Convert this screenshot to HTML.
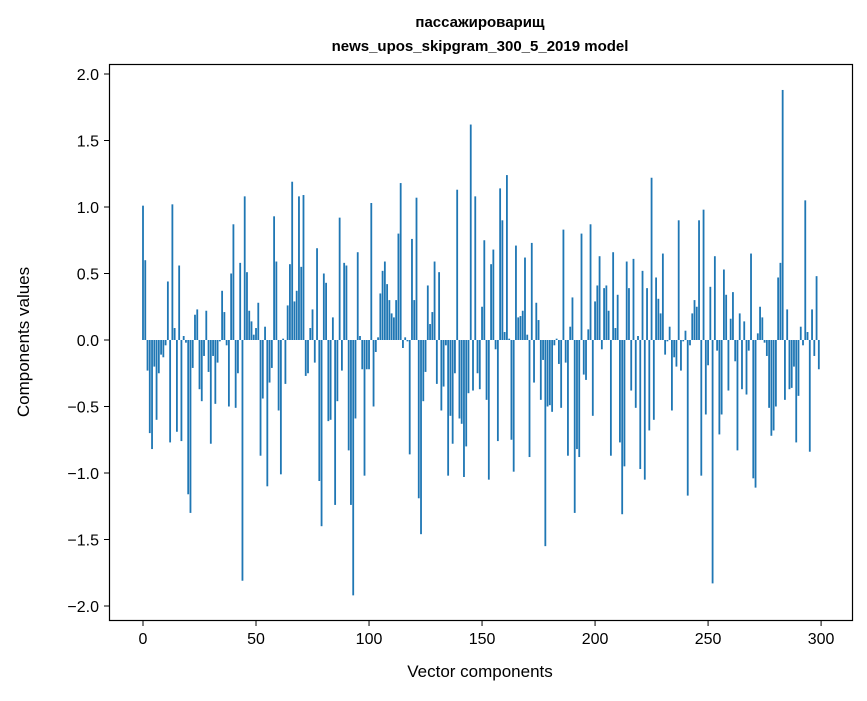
<!DOCTYPE html>
<html><head><meta charset="utf-8"><style>
body{margin:0;background:#fff;}
svg text{font-family:"Liberation Sans","DejaVu Sans",sans-serif;fill:#000;}
</style></head><body>
<svg id="chart" width="867" height="696" xmlns="http://www.w3.org/2000/svg">
<rect width="867" height="696" fill="#fff"/>
<text x="480" y="27" text-anchor="middle" font-size="15" font-weight="bold">пассажироварищ</text>
<text x="480" y="51" text-anchor="middle" font-size="15" font-weight="bold">news_upos_skipgram_300_5_2019 model</text>
<g id="bars"></g>
<g id="axes"></g>
<rect x="109.5" y="64.5" width="743" height="556" fill="none" stroke="#000" stroke-width="1.2"/>
<text x="480" y="677" text-anchor="middle" font-size="17">Vector components</text>
<text x="29" y="342" text-anchor="middle" font-size="17" transform="rotate(-90 29 342)">Components values</text>
</svg>
<script>
const values = [1.01,0.60,-0.23,-0.70,-0.82,-0.20,-0.60,-0.25,-0.11,-0.13,
-0.04,0.44,-0.77,1.02,0.09,-0.69,0.56,-0.76,0.03,-0.02,
-1.16,-1.30,-0.21,0.19,0.23,-0.37,-0.46,-0.12,0.22,-0.24,
-0.78,-0.12,-0.48,-0.17,-0.01,0.37,0.21,-0.04,-0.50,0.50,
0.87,-0.51,-0.25,0.58,-1.81,1.08,0.51,0.22,0.14,0.04,
0.09,0.28,-0.87,-0.44,0.10,-1.10,-0.32,-0.21,0.93,0.59,
-0.53,-1.01,0.01,-0.33,0.26,0.57,1.19,0.29,0.37,1.08,
0.55,1.09,-0.27,-0.25,0.09,0.23,-0.17,0.69,-1.06,-1.40,
0.50,0.43,-0.61,-0.60,0.17,-1.24,-0.46,0.92,-0.23,0.58,
0.56,-0.83,-1.24,-1.92,-0.59,0.66,0.03,-0.22,-1.02,-0.22,
-0.22,1.03,-0.50,-0.09,0.02,0.35,0.52,0.59,0.42,0.30,
0.20,0.17,0.30,0.80,1.18,-0.06,0.02,-0.01,-0.86,0.76,
0.30,1.07,-1.19,-1.46,-0.46,-0.24,0.41,0.12,0.21,0.59,
-0.33,0.51,-0.53,-0.35,-0.04,-1.02,-0.57,-0.78,-0.25,1.13,
-0.59,-0.63,-1.03,-0.80,-0.40,1.62,-0.38,1.08,-0.25,-0.37,
0.25,0.75,-0.45,-1.05,0.57,0.68,-0.07,-0.76,1.14,0.90,
0.06,1.24,0.01,-0.75,-0.99,0.71,0.17,0.18,0.22,0.62,
0.04,-0.88,0.73,-0.32,0.28,0.15,-0.45,-0.15,-1.55,-0.50,
-0.49,-0.54,-0.04,0.01,-0.18,-0.51,0.83,-0.17,-0.87,0.10,
0.32,-1.30,-0.82,-0.88,0.80,-0.26,-0.30,0.08,0.87,-0.57,
0.29,0.41,0.63,-0.07,0.39,0.41,0.22,-0.87,0.66,0.09,
0.34,-0.77,-1.31,-0.95,0.59,0.39,-0.38,0.61,-0.51,0.03,
-0.97,0.52,-1.05,0.39,-0.68,1.22,-0.60,0.47,0.31,0.20,
0.65,-0.11,-0.01,0.10,-0.53,-0.13,-0.20,0.90,-0.23,-0.01,
0.07,-1.17,-0.04,0.20,0.30,0.25,0.90,-1.02,0.98,-0.56,
-0.19,0.40,-1.83,0.63,-0.08,-0.71,-0.56,0.53,0.34,-0.38,
0.16,0.36,-0.16,-0.83,0.20,-0.37,0.14,-0.41,-0.08,0.65,
-1.04,-1.11,0.05,0.25,0.17,-0.02,-0.12,-0.51,-0.72,-0.68,
-0.50,0.47,0.58,1.88,-0.45,0.23,-0.37,-0.36,-0.20,-0.77,
-0.42,0.10,-0.04,1.05,0.06,-0.84,0.23,-0.12,0.48,-0.22];
const xTicks = [0,50,100,150,200,250,300];
const yTicks = [-2.0,-1.5,-1.0,-0.5,0.0,0.5,1.0,1.5,2.0];
const yTickLabels = ["\u22122.0","\u22121.5","\u22121.0","\u22120.5","0.0","0.5","1.0","1.5","2.0"];

const NS="http://www.w3.org/2000/svg";
const xs = v => 143 + v*2.2603;
const ys = v => 340 - v*133;
const bars=document.getElementById('bars');
values.forEach((v,i)=>{
  const r=document.createElementNS(NS,'rect');
  const y0=ys(Math.max(v,0)), y1=ys(Math.min(v,0));
  r.setAttribute('x',xs(i-0.4));
  r.setAttribute('y',y0);
  r.setAttribute('width',xs(0.8)-xs(0));
  r.setAttribute('height',Math.max(y1-y0,0.01));
  r.setAttribute('fill','#1f77b4');
  
  
  bars.appendChild(r);
});
const axes=document.getElementById('axes');
xTicks.forEach(t=>{
  const l=document.createElementNS(NS,'line');
  l.setAttribute('x1',xs(t));l.setAttribute('x2',xs(t));
  l.setAttribute('y1',621);l.setAttribute('y2',626);
  l.setAttribute('stroke','#000');
  
  
  axes.appendChild(l);
  const tx=document.createElementNS(NS,'text');
  tx.setAttribute('x',xs(t));tx.setAttribute('y',644);
  tx.setAttribute('text-anchor','middle');tx.setAttribute('font-size','16');
  tx.textContent=String(t);
  
  
  axes.appendChild(tx);
});
yTicks.forEach((t,k)=>{
  const l=document.createElementNS(NS,'line');
  l.setAttribute('x1',104);l.setAttribute('x2',109);
  l.setAttribute('y1',ys(t));l.setAttribute('y2',ys(t));
  l.setAttribute('stroke','#000');
  
  
  axes.appendChild(l);
  const tx=document.createElementNS(NS,'text');
  tx.setAttribute('x',99);tx.setAttribute('y',ys(t)+6);
  tx.setAttribute('text-anchor','end');tx.setAttribute('font-size','16');
  tx.textContent=yTickLabels[k];
  
  
  axes.appendChild(tx);
});
</script>
</body></html>
